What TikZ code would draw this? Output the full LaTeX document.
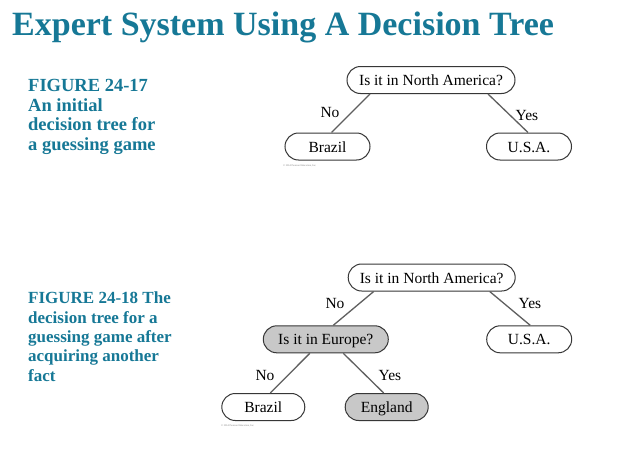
\documentclass[tikz,border=0pt]{standalone}
\usepackage{fontspec}
\setmainfont{Liberation Serif}
\usetikzlibrary{shapes.misc}
\definecolor{teal}{RGB}{22,120,150}
\definecolor{edgegray}{RGB}{95,95,95}
\definecolor{boxline}{RGB}{55,55,55}
\definecolor{shade}{RGB}{200,200,200}
\begin{document}
\begin{tikzpicture}[x=1pt,y=-1pt,
  treebox/.style={rounded rectangle, draw=boxline, line width=1pt, fill=white,
    minimum height=27pt, inner sep=0pt, text height=11.5pt, text depth=0.5pt,
    font=\fontsize{15.5}{17}\selectfont},
  shaded/.style={treebox, fill=shade},
  branch/.style={draw=edgegray, line width=1.3pt},
  lbl/.style={inner sep=0pt, font=\fontsize{15.5}{17}\selectfont},
  caption/.style={anchor=base west, inner sep=0pt, align=left, text=teal},
  credit/.style={anchor=west, inner sep=0pt, text=gray, font=\fontsize{2.6}{3}\selectfont}]
\path[use as bounding box, fill=white] (0,0) rectangle (630,450);

% heading
\node[anchor=base west, inner sep=0pt, text=teal,
  font=\fontsize{34}{40}\bfseries\selectfont] (title) at (12,35)
  {Expert System Using A Decision Tree};

% captions (anchored at the baseline of the last line)
\node[caption, font=\fontsize{18.5}{19.5}\bfseries\selectfont] (cap1) at (28,150)
  {FIGURE 24-17\\An initial\\decision tree for\\a guessing game};
\node[caption, font=\fontsize{17}{19.3}\bfseries\selectfont] (cap2) at (28,381)
  {FIGURE 24-18 The\\decision tree for a\\guessing game after\\acquiring another\\fact};

% first tree
\node[treebox, minimum width=168pt] (r1) at (431,80) {Is it in North America?};
\node[treebox, minimum width=85pt] (b1) at (327.5,146.5) {Brazil};
\node[treebox, minimum width=85pt] (u1) at (529,146.5) {U.S.A.};
\draw[branch] ([xshift=-61pt]r1.south) -- ([xshift=4pt]b1.north);
\draw[branch] ([xshift=57pt]r1.south) -- ([xshift=-1pt]u1.north);
\node[lbl] (no1) at (330,112) {No};
\node[lbl] (yes1) at (527,115) {Yes};
\node[credit] (cr1) at (283,166) {\textcopyright{} 2014 Pearson Education, Inc.};

% second tree
\node[treebox, minimum width=167pt] (r2) at (431.7,277.5) {Is it in North America?};
\node[shaded, minimum width=125pt] (e2) at (325.8,339.3) {Is it in Europe?};
\node[treebox, minimum width=85pt] (u2) at (529.2,339.3) {U.S.A.};
\node[treebox, minimum width=83pt] (b2) at (263.3,407) {Brazil};
\node[shaded, minimum width=83pt] (g2) at (386.7,407) {England};
\draw[branch] ([xshift=-58pt]r2.south) -- ([xshift=7.5pt]e2.north);
\draw[branch] ([xshift=58pt]r2.south) -- ([xshift=1pt]u2.north);
\draw[branch] ([xshift=-16pt]e2.south) -- ([xshift=7pt]b2.north);
\draw[branch] ([xshift=17.5pt]e2.south) -- ([xshift=-3pt]g2.north);
\node[lbl] (no2) at (335,303.3) {No};
\node[lbl] (yes2) at (530,303.3) {Yes};
\node[lbl] (no3) at (265,375) {No};
\node[lbl] (yes3) at (390,375) {Yes};
\node[credit] (cr2) at (221,426) {\textcopyright{} 2014 Pearson Education, Inc.};
\end{tikzpicture}
\end{document}
